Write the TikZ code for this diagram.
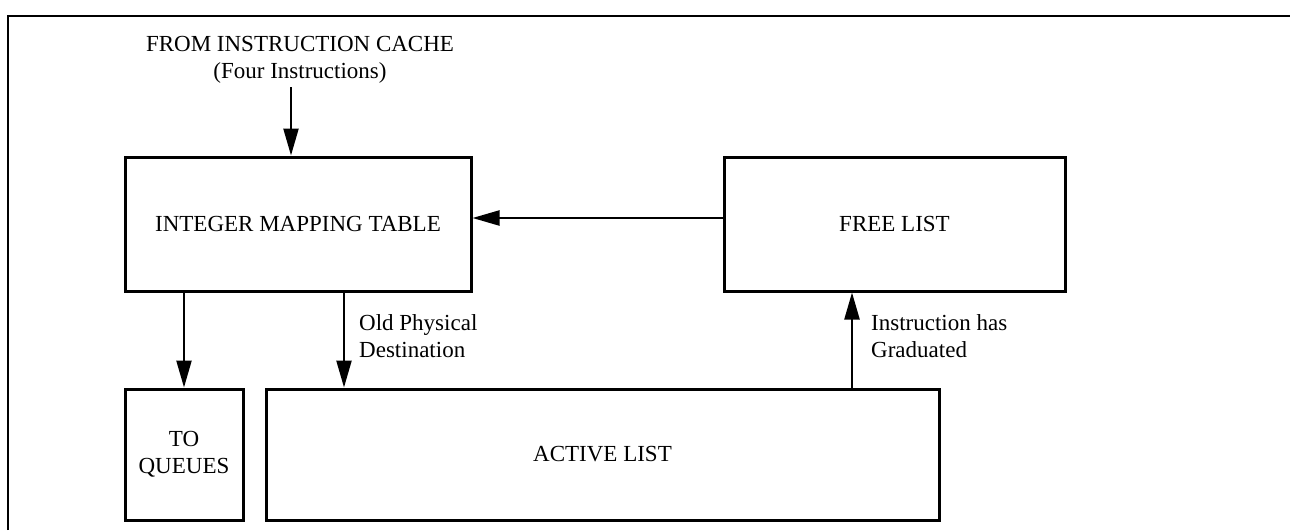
\documentclass[tikz,border=0pt]{standalone}
\usepackage{fontspec}
\setmainfont{Liberation Serif}
\usetikzlibrary{arrows.meta}
\tikzset{
  blk/.style={draw=black, line width=3pt, inner sep=0pt, align=center},
  arr/.style={line width=2.3pt, -{Triangle[length=27pt,width=15pt]}},
  lbl/.style={inner sep=0pt, align=left, anchor=north west}
}
\begin{document}
\begin{tikzpicture}[x=1pt, y=-1pt, font=\fontsize{23}{27}\selectfont]
\useasboundingbox (0,0) rectangle (1290,530);
% frame
\draw[black, line width=2.6pt](8,530)--(8,16)--(1290,16);
%------------------
\node[inner sep=0pt, align=center] (src) at (300,60) {FROM INSTRUCTION CACHE\\(Four Instructions)};
\node[blk, minimum width=346pt, minimum height=134pt] (imt) at (298,224) {INTEGER MAPPING TABLE};
\node[blk, minimum width=341pt, minimum height=134pt] (free) at (894.5,224) {FREE LIST};
\node[blk, minimum width=118pt, minimum height=131pt] (queues) at (184,454.5) {TO\\QUEUES};
\node[blk, minimum width=673pt, minimum height=131pt] (active) at (602.5,454.5) {ACTIVE LIST};
%------------------
\coordinate (in) at (291,87);
\coordinate (back) at (724,218);
\coordinate (old) at (344,291);
\coordinate (grad) at (852,389);
\draw[arr](in)--(in |- imt.north);
\draw[arr](back)--(imt.east |- back);
\draw[arr](queues.north |- imt.south)--(queues.north);
\draw[arr](old)--(old |- active.north);
\draw[arr](grad)--(grad |- free.south);
\node[lbl] (oldlbl) at (359,314) {Old Physical\\Destination};
\node[lbl] (gradlbl) at (871,314) {Instruction has\\Graduated};
\end{tikzpicture}
\end{document}
